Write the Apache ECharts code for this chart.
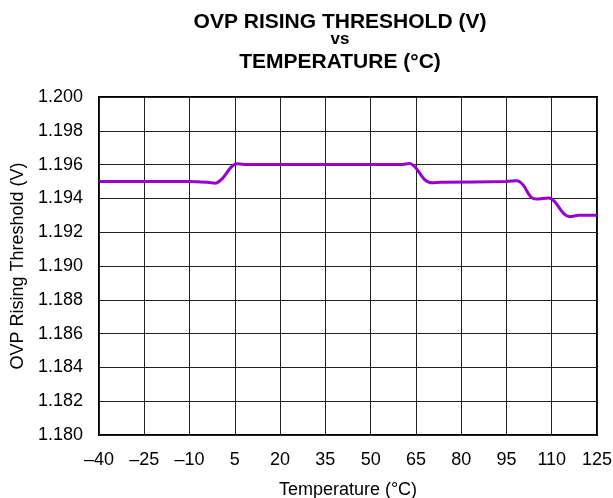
<!DOCTYPE html>
<html>
<head>
<meta charset="utf-8">
<script src="https://cdn.jsdelivr.net/npm/echarts@6/dist/echarts.min.js"></script>
<style>
  html, body { margin: 0; padding: 0; background: #fff; }
  #chart { width: 613px; height: 498px; }
</style>
</head>
<body>
<div id="chart"></div>
<script>
// temperature (°C) and OVP rising threshold (V)
var temps = [-40, -10, -4, -1.5, 1, 4, 6, 9, 60, 63, 65, 68, 70.5, 73, 95, 98.5, 100.5, 103, 105, 109, 111, 114, 116, 119, 125]
var thresholds = [1.195, 1.195, 1.19495, 1.1949, 1.1952, 1.1959, 1.19605, 1.196, 1.196, 1.19606, 1.1958, 1.1951, 1.19492, 1.19495, 1.195, 1.19505, 1.1948, 1.1941, 1.19396, 1.19402, 1.1938, 1.1931, 1.19292, 1.193, 1.193]
var xTicks = [-40, -25, -10, 5, 20, 35, 50, 65, 80, 95, 110, 125]

var font = 'Liberation Sans, Arial, sans-serif'

var chart = echarts.init(document.getElementById('chart'))

var option = {
  animation: false,
  title: [
    { text: 'OVP RISING THRESHOLD (V)', left: 335, top: 7, textAlign: 'center',
      textStyle: { fontFamily: font, fontSize: 21, fontWeight: 'bold', color: '#000' } },
    { text: 'vs', left: 335, top: 26, textAlign: 'center',
      textStyle: { fontFamily: font, fontSize: 17, fontWeight: 'bold', color: '#000' } },
    { text: 'TEMPERATURE (°C)', left: 335, top: 47, textAlign: 'center',
      textStyle: { fontFamily: font, fontSize: 21, fontWeight: 'bold', color: '#000' } }
  ],
  grid: {
    left: 99, right: 16, top: 97, bottom: 63,
    outerBoundsMode: 'none',
    show: true, borderColor: '#000', borderWidth: 2
  },
  xAxis: {
    type: 'value', min: -40, max: 125, interval: 15,
    name: 'Temperature (°C)', nameLocation: 'middle', nameGap: 46,
    nameTextStyle: { fontFamily: font, fontSize: 18, color: '#000' },
    axisLine: { show: false },
    axisTick: { show: false },
    axisLabel: {
      fontFamily: font, fontSize: 18, color: '#000', margin: 16,
      formatter: function (v) { return xTicks.indexOf(v) >= 0 ? String(v).replace('-', '–') : '' }
    },
    splitLine: { show: true, lineStyle: { color: '#222', width: 1 } }
  },
  yAxis: {
    type: 'value', min: 1.18, max: 1.2, interval: 0.002,
    name: 'OVP Rising Threshold (V)', nameLocation: 'middle', nameGap: 70,
    nameTextStyle: { fontFamily: font, fontSize: 18, color: '#000' },
    axisLine: { show: false },
    axisTick: { show: false },
    axisLabel: {
      fontFamily: font, fontSize: 18, color: '#000', margin: 16,
      formatter: function (v) { return v.toFixed(3) }
    },
    splitLine: { show: true, lineStyle: { color: '#222', width: 1 } }
  },
  series: [{
    type: 'line',
    data: temps.map(function (t, i) { return [t, thresholds[i]] }),
    smooth: 0.3,
    showSymbol: false,
    lineStyle: { color: '#9900cc', width: 3 }
  }]
}

chart.setOption(option)
</script>
</body>
</html>
